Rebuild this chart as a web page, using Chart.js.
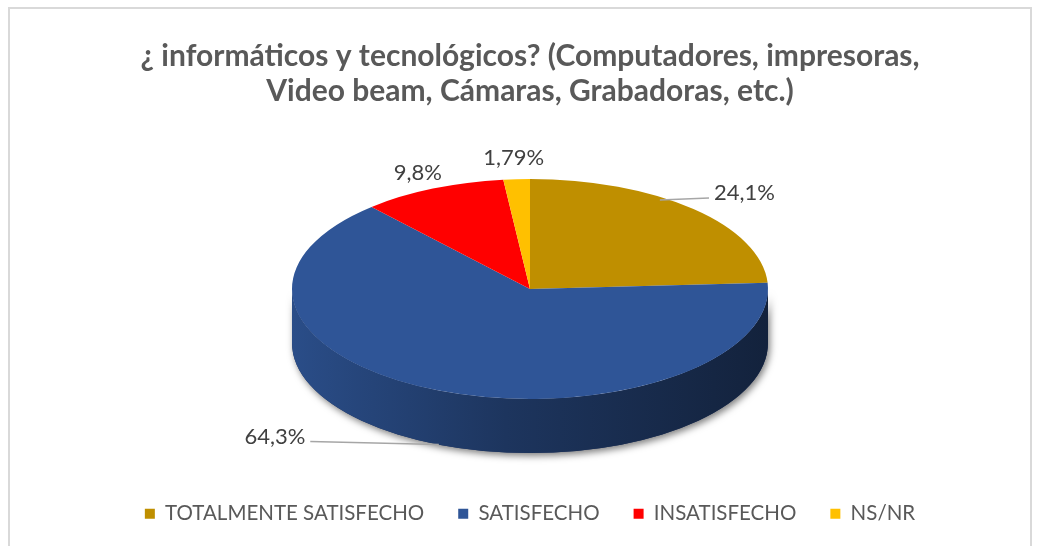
<!DOCTYPE html>
<html>
<head>
<meta charset="utf-8">
<script src="https://cdn.jsdelivr.net/npm/chart.js@4.4.0/dist/chart.umd.min.js"></script>
<style>
html, body { margin: 0; padding: 0; background: #fff; }
#marco { position: absolute; left: 8px; top: 7px; width: 1020px; height: 600px; border: 2px solid #d9d9d9; }
#contenedor { position: absolute; left: 0; top: 0; width: 1038px; height: 546px; }
</style>
</head>
<body>
<div id="marco"></div>
<div id="contenedor"><canvas id="pieChart" width="1038" height="546"></canvas></div>
<script>
var titulo = ['¿ informáticos y tecnológicos? (Computadores, impresoras,', 'Video beam, Cámaras, Grabadoras, etc.)'];
var categorias = ['TOTALMENTE SATISFECHO', 'SATISFECHO', 'INSATISFECHO', 'NS/NR'];
var porcentajes = [24.1, 64.3, 9.8, 1.79];
var etiquetas = ['24,1%', '64,3%', '9,8%', '1,79%'];
var colores = ['#BF8F00', '#2F5597', '#FF0000', '#FFC000'];

// desplazamiento de cada etiqueta respecto al borde de su porcion
var desplazEtiqueta = [[51, -16], [-164, -8], [-15, -16], [-3, -21]];
var conGuia = [true, true, false, false];

var fuente = 'Lato, Carlito, "Open Sans", sans-serif';
var radioPie = 238;
var inclinacion = 110 / 238;
var alturaPie = 54;
var centroY = 289;

function oscurecer(hex, f) {
    var n = parseInt(hex.slice(1), 16);
    var r = Math.round(((n >> 16) & 255) * f);
    var g = Math.round(((n >> 8) & 255) * f);
    var b = Math.round((n & 255) * f);
    return 'rgb(' + r + ',' + g + ',' + b + ')';
}

var pie3d = {
    id: 'pie3d',
    beforeDatasetsDraw: function(chart) {
        var ctx = chart.ctx;
        var arcs = chart.getDatasetMeta(0).data;
        var cx = arcs[0].x, r = arcs[0].outerRadius, ry = r * inclinacion;

        // sombra de la pared frontal
        ctx.save();
        ctx.shadowColor = 'rgba(0,0,0,0.5)';
        ctx.shadowBlur = 7;
        ctx.shadowOffsetX = 2;
        ctx.shadowOffsetY = 3;
        ctx.beginPath();
        ctx.ellipse(cx, centroY, r, ry, 0, 0, Math.PI);
        ctx.ellipse(cx, centroY + alturaPie, r, ry, 0, Math.PI, 0, true);
        ctx.closePath();
        ctx.fillStyle = '#1c2f5c';
        ctx.fill();
        ctx.restore();

        // paredes laterales de cada porcion
        arcs.forEach(function(arc, i) {
            var s = Math.max(arc.startAngle, 0);
            var e = Math.min(arc.endAngle, Math.PI);
            if (e <= s) return;
            var grad = ctx.createLinearGradient(cx - r, 0, cx + r, 0);
            grad.addColorStop(0, oscurecer(colores[i], 0.9));
            grad.addColorStop(0.45, oscurecer(colores[i], 0.62));
            grad.addColorStop(1, oscurecer(colores[i], 0.4));
            ctx.beginPath();
            ctx.ellipse(cx, centroY, r, ry, 0, s, e);
            ctx.ellipse(cx, centroY + alturaPie, r, ry, 0, e, s, true);
            ctx.closePath();
            ctx.fillStyle = grad;
            ctx.fill();
        });

        // cara superior aplastada
        ctx.save();
        ctx.translate(0, centroY);
        ctx.scale(1, inclinacion);
        ctx.translate(0, -arcs[0].y);
    },
    afterDatasetsDraw: function(chart) {
        chart.ctx.restore();
    },
    afterDraw: function(chart) {
        var ctx = chart.ctx;
        var arcs = chart.getDatasetMeta(0).data;
        ctx.save();
        ctx.font = '22px ' + fuente;
        ctx.fillStyle = '#404040';
        ctx.textAlign = 'center';
        ctx.textBaseline = 'middle';
        arcs.forEach(function(arc, i) {
            var m = (arc.startAngle + arc.endAngle) / 2;
            var r = arc.outerRadius, ry = r * inclinacion;
            var ax = arc.x + r * Math.cos(m);
            var ay = centroY + ry * Math.sin(m);
            var frente = Math.sin(m) > 0.3;
            if (frente) ay += alturaPie;
            var tx = ax + desplazEtiqueta[i][0];
            var ty = ay + desplazEtiqueta[i][1];
            if (conGuia[i]) {
                var w = ctx.measureText(etiquetas[i]).width;
                var gy = ty + 5;
                var gx = tx > ax ? tx - w / 2 - 5 : tx + w / 2 + 5;
                var sx = ax, sy = ay;
                if (!frente) {
                    // punto del borde a la altura de la guia
                    var k = (gy - centroY) / ry;
                    sx = arc.x + Math.sign(Math.cos(m)) * r * Math.sqrt(Math.max(0, 1 - k * k)) - 4 * Math.sign(Math.cos(m));
                    sy = gy + 2;
                }
                ctx.beginPath();
                ctx.moveTo(sx, sy);
                ctx.lineTo(gx, gy);
                ctx.strokeStyle = '#a6a6a6';
                ctx.lineWidth = 1.5;
                ctx.stroke();
            }
            ctx.fillText(etiquetas[i], tx, ty);
        });
        ctx.restore();
    }
};

var ctx = document.getElementById('pieChart').getContext('2d');
var graficoPie = new Chart(ctx, {
    type: 'pie',
    data: {
        labels: categorias,
        datasets: [{
            data: porcentajes,
            backgroundColor: colores,
            borderWidth: 0,
            clip: false
        }]
    },
    options: {
        responsive: false,
        animation: false,
        events: [],
        radius: radioPie,
        layout: { padding: { left: 22, bottom: 12 } },
        plugins: {
            title: {
                display: true,
                text: titulo,
                color: '#595959',
                font: { family: fuente, size: 30, weight: 'bold', lineHeight: 1.17 },
                padding: { top: 39, bottom: 10 }
            },
            legend: {
                position: 'bottom',
                labels: {
                    boxWidth: 10,
                    boxHeight: 10,
                    padding: 34,
                    color: '#595959',
                    font: { family: fuente, size: 20.5 }
                }
            },
            tooltip: { enabled: false }
        }
    },
    plugins: [pie3d]
});
</script>
</body>
</html>
